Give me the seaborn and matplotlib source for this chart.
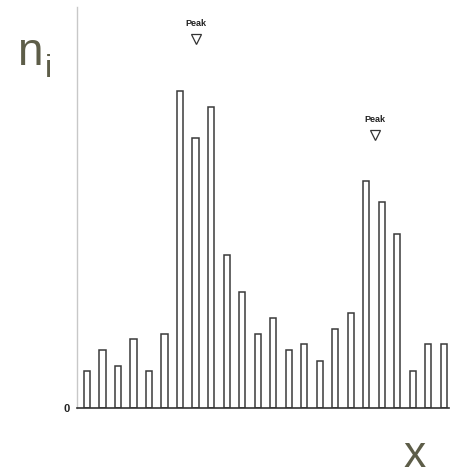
import matplotlib
matplotlib.use("Agg")
import matplotlib.pyplot as plt
import seaborn as sns
import pandas as pd
import numpy as np

# data
bins = list(range(1, 25))
counts = [3.7, 5.8, 4.2, 6.9, 3.7, 7.4, 31.7, 27.0, 30.1, 15.3, 11.6, 7.4,
          9.0, 5.8, 6.4, 4.7, 7.9, 9.5, 22.7, 20.6, 17.4, 3.7, 6.4, 6.4]
peak_x = [7.0, 18.55]
peak_y = [36.9, 27.3]
peak_labels = ["Peak", "Peak"]

df = pd.DataFrame({"bin": bins, "count": counts})

sns.set_theme(style="white")
plt.rcParams["font.family"] = ["Liberation Sans", "DejaVu Sans"]

W, H = 451, 476
fig = plt.figure(figsize=(W / 100, H / 100), dpi=100)
ax = fig.add_axes([77 / W, (H - 408) / H, (449 - 77) / W, (408 - 7) / H])

sns.barplot(data=df, x="bin", y="count", ax=ax, color="white",
            edgecolor="#3a3a3a", linewidth=1.1, width=0.39, saturation=1)

ax.set_xlim(-0.645, 23.35)
ax.set_ylim(0, 40.1)
ax.set_xticks([])
ax.set_yticks([0])
ax.set_yticklabels(["0"], fontsize=8, fontweight="bold", color="#222222")
ax.tick_params(axis="y", length=0, pad=5)
ax.set_xlabel("")
ax.set_ylabel("")

for s in ["top", "right"]:
    ax.spines[s].set_visible(False)
ax.spines["left"].set_color("#c8c8c8")
ax.spines["left"].set_linewidth(1.0)
ax.spines["bottom"].set_color("#333333")
ax.spines["bottom"].set_linewidth(1.2)

# peak markers
ax.plot(peak_x, peak_y, linestyle="none", marker="v", markersize=7,
        markerfacecolor="white", markeredgecolor="#333333", markeredgewidth=0.9,
        clip_on=False)
for px, py, lab in zip(peak_x, peak_y, peak_labels):
    ax.text(px, py + 1.15, lab, ha="center", va="bottom", fontsize=6.5,
            fontweight="bold", color="#222222")

# axis labels
lab_col = "#5d5d48"
fig.text(17 / W, 1 - 65 / H, "n", fontsize=33, color=lab_col,
         ha="left", va="baseline")
fig.text(45 / W, 1 - 77 / H, "i", fontsize=23, color=lab_col,
         ha="left", va="baseline")
fig.text(415 / W, 1 - 467 / H, "x", fontsize=32, color=lab_col,
         ha="center", va="baseline")

fig.savefig("out.png", dpi=100)
